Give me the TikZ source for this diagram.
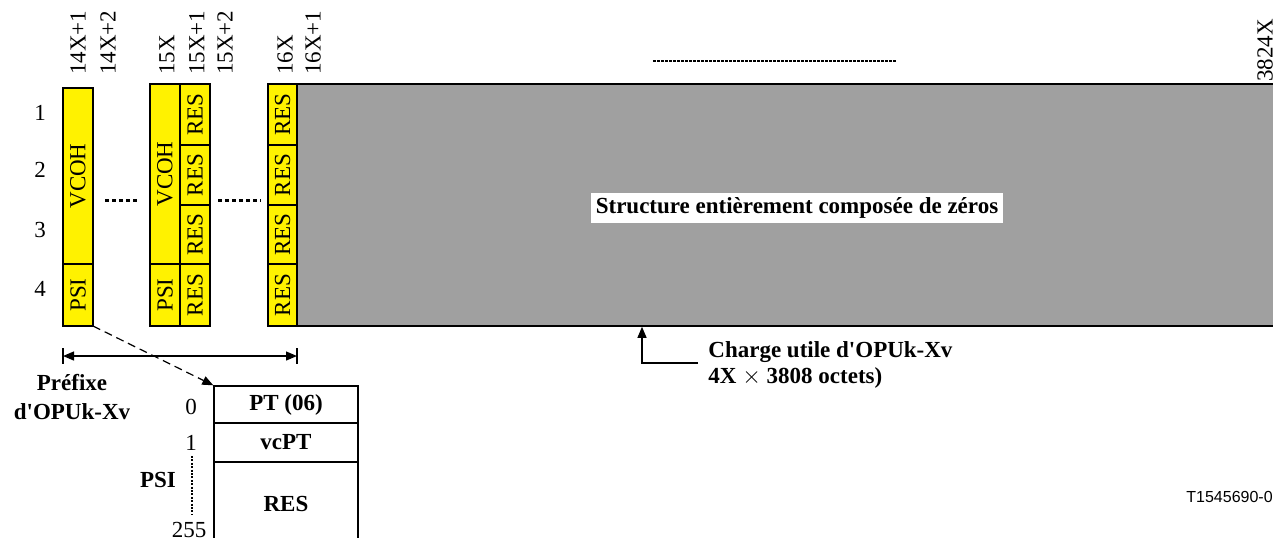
\documentclass[tikz,border=0pt]{standalone}
\usepackage{fontspec}
\setmainfont{Liberation Serif}
\newfontfamily\rawserif{Liberation Serif}
\newfontfamily\sansf{Liberation Sans}
\usetikzlibrary{arrows.meta}
\definecolor{paygray}{HTML}{A0A0A0}
\newcommand{\sq}{{\rawserif'}}
\begin{document}
\begin{tikzpicture}[x=0.5pt,y=-0.5pt,
  font=\fontsize{11.5pt}{13pt}\selectfont,
  cell/.style={draw=black, line width=0.8pt, fill=yellow, rotate=90, inner sep=0pt, minimum height=15pt},
  boxc/.style={draw=black, line width=0.7pt, minimum width=72pt, inner sep=0pt, font=\fontsize{11.5pt}{13pt}\selectfont\bfseries},
  toplbl/.style={rotate=90, anchor=west, inner sep=0pt},
  rowlbl/.style={inner sep=0pt},
  bigdots/.style={line width=1.5pt, dash pattern=on 2pt off 1.5pt},
  fineline/.style={line width=0.6pt},
  tip/.style={-{Triangle[length=5.5pt,width=4.5pt]}}
]
\useasboundingbox (0,0) rectangle (1273,537);

% top column labels
\node[toplbl] (l1) at (78,75) {14X+1};
\node[toplbl] (l2) at (108,75) {14X+2};
\node[toplbl] (l3) at (167,75) {15X};
\node[toplbl] (l4) at (197,75) {15X+1};
\node[toplbl] (l5) at (225,75) {15X+2};
\node[toplbl] (l6) at (285,75) {16X};
\node[toplbl] (l7) at (313,75) {16X+1};
\node[toplbl] (l8) at (1265,82) {3824X};

% row labels
\node[rowlbl] (r1) at (40,113) {1};
\node[rowlbl] (r2) at (40,170) {2};
\node[rowlbl] (r3) at (40,230) {3};
\node[rowlbl] (r4) at (40,289) {4};

% payload (grey)
\node[draw=black, line width=0.8pt, fill=paygray, minimum width=496.5pt, minimum height=121pt, inner sep=0pt] (pay) at (793.5,205) {};
\node[fill=white, inner sep=2.5pt, font=\fontsize{11.5pt}{13pt}\selectfont\bfseries] (zt) at (797,208) {Structure entièrement composée de zéros};

% column 14X+1
\node[cell, minimum width=88pt] (c1v) at (78,176) {VCOH};
\node[cell, minimum width=31pt] (c1p) at (78,295) {PSI};

% columns 15X, 15X+1
\node[cell, minimum width=90pt] (c2v) at (165,174) {VCOH};
\node[cell, minimum width=31pt] (c2p) at (165,295) {PSI};
\node[cell, minimum width=30.5pt] (c2r1) at (195,114.5) {RES};
\node[cell, minimum width=30pt] (c2r2) at (195,175) {RES};
\node[cell, minimum width=29.5pt] (c2r3) at (195,234.5) {RES};
\node[cell, minimum width=31pt] (c2r4) at (195,295) {RES};

% column 16X
\node[cell, minimum width=30.5pt, minimum height=14.5pt] (c3r1) at (282.5,114.5) {RES};
\node[cell, minimum width=30pt, minimum height=14.5pt] (c3r2) at (282.5,175) {RES};
\node[cell, minimum width=29.5pt, minimum height=14.5pt] (c3r3) at (282.5,234.5) {RES};
\node[cell, minimum width=31pt, minimum height=14.5pt] (c3r4) at (282.5,295) {RES};

% dotted separators
\draw[bigdots] (105,200) -- (139,200);
\draw[bigdots] (218,200) -- (261,200);
\draw[line width=1pt, dash pattern=on 1.4pt off 0.6pt] (653,61) -- (896,61);

% prefix span arrow
\coordinate (pl) at (63,356);
\coordinate (pr) at (297,356);
\draw[fineline] (63,348) -- (63,364);
\draw[fineline] (297,348) -- (297,364);
\draw[fineline, {Triangle[length=5.5pt,width=4.5pt]}-{Triangle[length=5.5pt,width=4.5pt]}] (pl) -- (pr);
\node[align=center, inner sep=0pt, font=\fontsize{11.5pt}{14.5pt}\selectfont\bfseries] (pref) at (72,397) {Préfixe\\d\sq OPUk-Xv};

% PSI expansion box
\node[boxc, minimum height=18.5pt] (b0) at (286,404.5) {PT (06)};
\node[boxc, minimum height=19.5pt] (b1) at (286,442.5) {vcPT};
\node[boxc, minimum height=42pt] (b2) at (286,504) {RES};

\coordinate (dstart) at (93,326);
\draw[fineline, dash pattern=on 4pt off 2.5pt, tip] (dstart) -- (b0.north west);

\node[rowlbl] (n0) at (191,407) {0};
\node[rowlbl] (n1) at (191,443) {1};
\node[rowlbl] (n255) at (189,530) {255};
\node[rowlbl, font=\fontsize{11.5pt}{13pt}\selectfont\bfseries] (psil) at (158,480) {PSI};
\draw[line width=0.8pt, dash pattern=on 1pt off 0.7pt] (192,456) -- (192,515);

% payload annotation
\coordinate (ch) at (698,363);
\coordinate (chc) at (642,363);
\draw[fineline, tip] (ch) -- (chc) -- (chc |- pay.south);
\node[anchor=west, align=left, inner sep=0pt, font=\fontsize{11.5pt}{13pt}\selectfont\bfseries] (cht) at (708,365) {Charge utile d\sq OPUk-Xv\\4X $\times$ 3808 octets)};

\node[anchor=west, inner sep=0pt, font=\sansf\fontsize{8pt}{9pt}\selectfont] (fig) at (1186,497) {T1545690-02};
\end{tikzpicture}
\end{document}
